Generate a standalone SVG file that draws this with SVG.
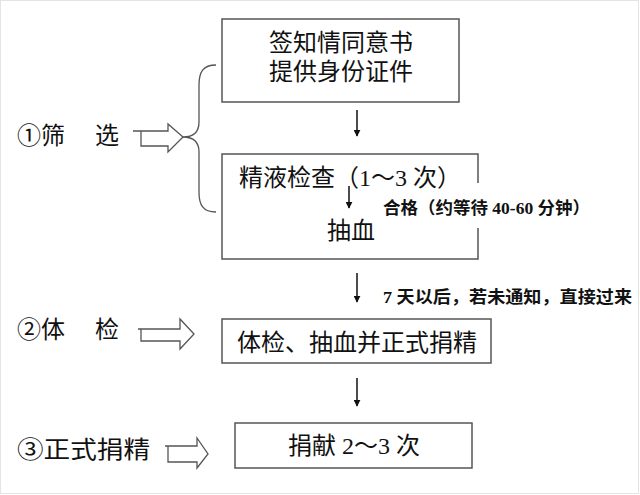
<svg xmlns="http://www.w3.org/2000/svg" width="640" height="495" viewBox="0 0 640 495">
<defs>
<style>
.box{fill:#fff;stroke:#555;stroke-width:1.5}
.big{font-family:"Liberation Serif","Noto Sans CJK SC",serif;font-size:24px;fill:#111}
.small{font-family:"Liberation Serif","Noto Sans CJK SC",serif;font-size:17px;fill:#111;font-weight:bold}
.ln{stroke:#111;stroke-width:1.5;fill:none}
.hollow{fill:#fff;stroke:#555;stroke-width:1.3}
.brace{fill:none;stroke:#555;stroke-width:1.3}
</style>
<marker id="ah" viewBox="0 0 10 10" refX="9" refY="5" markerWidth="7" markerHeight="7" markerUnits="userSpaceOnUse" orient="auto">
<path d="M0,0 L10,5 L0,10 z" fill="#111"/>
</marker>
</defs>
<rect x="0.5" y="0.5" width="638" height="493" fill="#fff" stroke="#e4e4e4"/>

<g id="label1"><text class="big" x="17" y="144">①筛　 选</text></g>
<g id="label2"><text class="big" x="17" y="338">②体　 检</text></g>
<g id="label3"><text class="big" x="17" y="458" textLength="133" lengthAdjust="spacingAndGlyphs">③正式捐精</text></g>

<g id="node1">
<rect class="box" x="222" y="19" width="237" height="83"/>
<text class="big" x="269" y="51">签知情同意书</text>
<text class="big" x="269" y="80">提供身份证件</text>
</g>

<g id="node2">
<path class="box" d="M478,183 L478,154 L222,154 L222,259 L478,259 L478,228"/>
<text class="big" x="239" y="186">精液检查（1～3 次）</text>
<text class="big" x="327" y="239">抽血</text>
</g>

<g id="node3">
<rect class="box" x="222" y="319" width="269" height="44"/>
<text class="big" x="237" y="351">体检、抽血并正式捐精</text>
</g>

<g id="node4">
<rect class="box" x="235" y="423" width="237" height="45"/>
<text class="big" x="288" y="454">捐献 2～3 次</text>
</g>

<g id="connectors">
<path class="brace" d="M216,65 C203,65 199,72 199,85 L199,122 C199,132 194,137 183,137 C194,137 199,142 199,152 L199,192 C199,205 203,212 216,212"/>
<path class="hollow" d="M133,131 L168,131 L168,124 L183,137 L168,152 L168,146 L141,146 L141,131"/>
<path class="hollow" d="M138,329 L180,329 L180,319 L194,334 L180,349 L180,341 L141,341 L141,329"/>
<path class="hollow" d="M165,446 L197,446 L197,438 L208,454 L197,468 L197,462 L168,462 L168,446"/>
<line class="ln" x1="357" y1="110" x2="357" y2="136" marker-end="url(#ah)"/>
<line class="ln" x1="349" y1="186" x2="349" y2="208" marker-end="url(#ah)"/>
<line class="ln" x1="357" y1="273" x2="357" y2="302" marker-end="url(#ah)"/>
<line class="ln" x1="357" y1="378" x2="357" y2="406" marker-end="url(#ah)"/>
<text class="small" x="383" y="214" textLength="207" lengthAdjust="spacingAndGlyphs">合格（约等待 40-60 分钟）</text>
<text class="small" x="383" y="303" textLength="249" lengthAdjust="spacingAndGlyphs">7 天以后，若未通知，直接过来</text>
</g>
</svg>
